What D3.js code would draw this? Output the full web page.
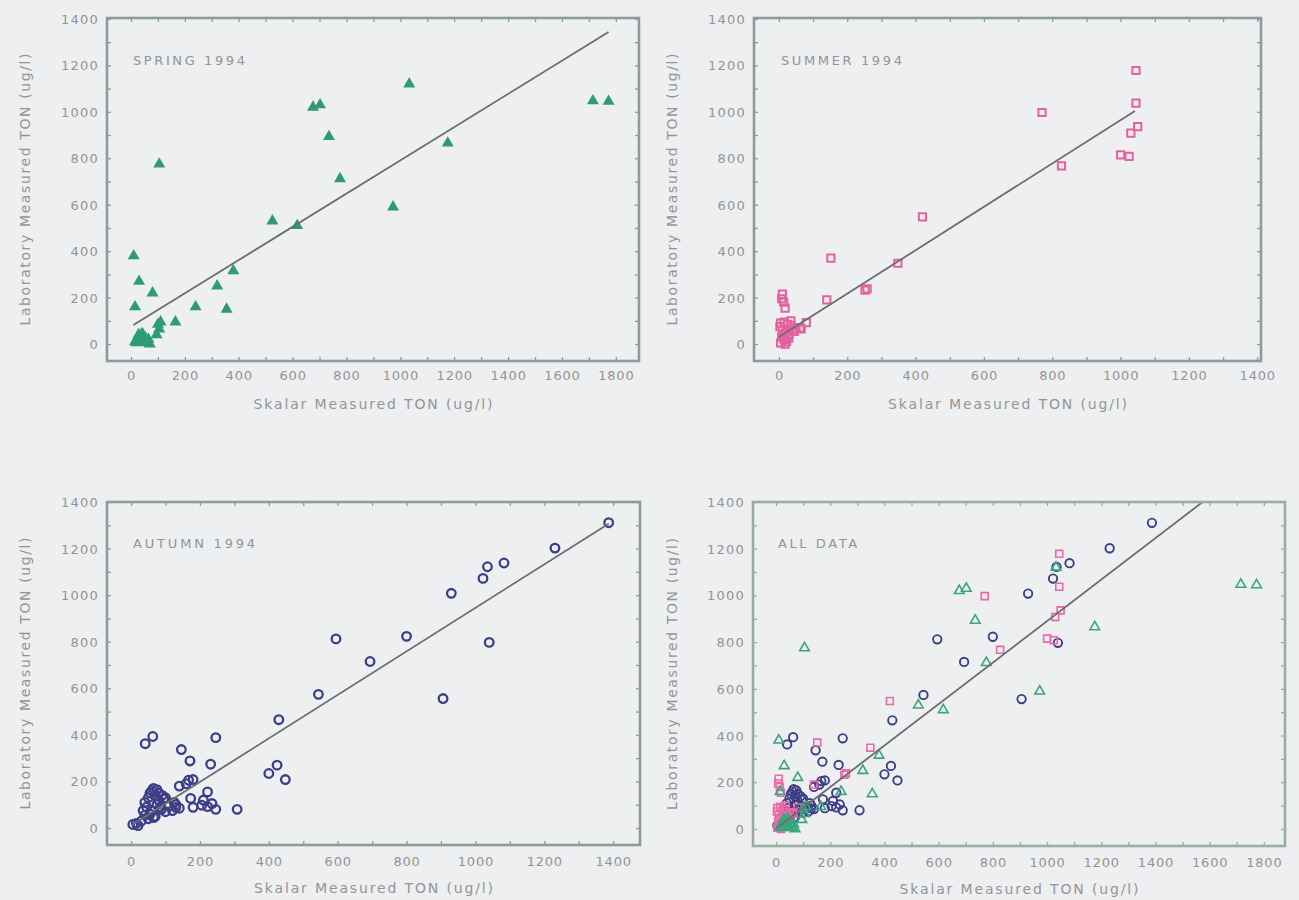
<!DOCTYPE html>
<html>
<head>
<meta charset="utf-8">
<script src="https://cdn.jsdelivr.net/npm/d3@7"></script>
<style>
  html, body { margin: 0; padding: 0; background: #eeeff0; }
  svg { display: block; }
</style>
</head>
<body>
<svg id="chart" width="1299" height="900"></svg>
<script>
// ---------------- DATA ----------------
const panelTitles = ["SPRING 1994", "SUMMER 1994", "AUTUMN 1994", "ALL DATA"];
const xAxisTitle = "Skalar Measured TON (ug/l)";
const yAxisTitle = "Laboratory Measured TON (ug/l)";

const xTicks1800 = [0, 200, 400, 600, 800, 1000, 1200, 1400, 1600, 1800];
const xTicks1400 = [0, 200, 400, 600, 800, 1000, 1200, 1400];
const yTicks = [0, 200, 400, 600, 800, 1000, 1200, 1400];

// [Skalar TON, Laboratory TON]
const spring = [
  [10, 380], [30, 270], [15, 160], [80, 220], [105, 775], [165, 95], [240, 160],
  [320, 250], [355, 150], [380, 315], [525, 530], [617, 510], [676, 1020],
  [702, 1030], [735, 893], [776, 712], [973, 590], [1033, 1120], [1176, 865],
  [1715, 1047], [1773, 1045],
  [100, 85], [105, 65], [110, 95], [95, 40],
  [20, 5], [25, 20], [30, 10], [35, 30], [40, 45], [45, 40], [50, 10], [55, 25],
  [60, 5], [15, 10], [28, 40], [42, 15], [65, 20], [70, 0]
];

const summer = [
  [1045, 1178], [1045, 1037], [1050, 936], [1030, 908], [770, 997], [1000, 815],
  [1025, 808], [827, 767], [420, 548], [348, 348], [152, 370], [140, 190],
  [252, 232], [258, 238], [80, 92], [62, 70],
  [10, 215], [8, 195], [18, 155], [14, 180],
  [5, 90], [15, 95], [25, 85], [35, 80], [50, 70], [65, 65], [10, 60], [20, 50],
  [30, 40], [8, 30], [15, 20], [22, 10], [5, 5], [40, 60], [45, 55], [12, 40],
  [28, 25], [18, 0], [3, 75], [35, 100]
];

const autumn = [
  [1387, 1311], [1231, 1202], [1083, 1138], [1035, 1122], [1022, 1072], [930, 1008],
  [800, 823], [595, 812], [1040, 797], [694, 715], [544, 574], [906, 556],
  [429, 465], [246, 388], [63, 393], [41, 362], [146, 337], [171, 288], [231, 274],
  [424, 270], [400, 234], [448, 208], [308, 80], [167, 205], [180, 208], [160, 190],
  [140, 180], [173, 127], [222, 155], [210, 120], [180, 89], [222, 92], [246, 80],
  [235, 105], [205, 98], [130, 88], [125, 110], [95, 125], [88, 80],
  [40, 110], [50, 130], [55, 150], [60, 160], [65, 170], [70, 140], [75, 165],
  [80, 150], [45, 90], [55, 60], [60, 75], [70, 50], [75, 100], [80, 120], [35, 75],
  [40, 55], [50, 40], [65, 45], [85, 90], [100, 70], [110, 95], [120, 75], [130, 100],
  [140, 85], [90, 140], [100, 130], [5, 15], [15, 20], [20, 10], [30, 30]
];

// fitted lines, in data units: [x0, y0, x1, y1]
const springFit = [9, 82, 1773, 1344];
const summerFit = [0, 30, 1042, 1004];
const autumnFit = [2, 13, 1387, 1307];
const allFit = [0, 2, 1780, 1583];

// ---------------- LAYOUT / STYLE ----------------
const svg = d3.select("#chart");
const font = "'DejaVu Sans', 'Liberation Sans', sans-serif";
const tickColor = "#929496";
const titleColor = "#939597";

const styles = {
  springBig:  { type: d3.symbolTriangle, size: 62, fill: "#2e9b74", stroke: "none", sw: 0 },
  summerBig:  { type: d3.symbolSquare, size: 52, fill: "none", stroke: "#e5619d", sw: 2 },
  autumnBig:  { type: "circle", r: 4.3, fill: "none", stroke: "#3d3f86", sw: 2.3 },
  springSmall:{ type: d3.symbolTriangle, size: 40, fill: "none", stroke: "#3aa57e", sw: 1.6 },
  summerSmall:{ type: d3.symbolSquare, size: 48, fill: "none", stroke: "#ea6aa5", sw: 1.6 },
  autumnSmall:{ type: "circle", r: 4.2, fill: "none", stroke: "#3d3f86", sw: 1.9 }
};

const panels = [
  { title: panelTitles[0], titleLen: 112, frame: [107, 18, 639, 361], xDom: [-89, 1886], yDom: [-73, 1404],
    xTicks: xTicks1800, xMax: 1800, series: [[spring, "springBig"]], fit: springFit, frameColor: "#8e9b9c",
    xLabGap: 19 },
  { title: panelTitles[1], titleLen: 121, frame: [754, 18, 1261, 361], xDom: [-73, 1411], yDom: [-73, 1404],
    xTicks: xTicks1400, xMax: 1400, series: [[summer, "summerBig"]], fit: summerFit, frameColor: "#8e9b9c",
    xLabGap: 19 },
  { title: panelTitles[2], titleLen: 122, frame: [107, 502, 640, 845], xDom: [-70, 1478], yDom: [-73, 1400],
    xTicks: xTicks1400, xMax: 1400, series: [[autumn, "autumnBig"]], fit: autumnFit, frameColor: "#8e9b9c",
    xLabGap: 21 },
  { title: panelTitles[3], titleLen: 79, frame: [753, 502, 1285, 846], xDom: [-85, 1878], yDom: [-73, 1400],
    xTicks: xTicks1800, xMax: 1800,
    series: [[autumn, "autumnSmall"], [summer, "summerSmall"], [spring, "springSmall"]],
    fit: allFit, frameColor: "#98ae9e", xLabGap: 21 }
];

panels.forEach((p, i) => {
  const [x0, y0, x1, y1] = p.frame;
  const x = d3.scaleLinear().domain(p.xDom).range([x0, x1]);
  const y = d3.scaleLinear().domain(p.yDom).range([y1, y0]);
  const g = svg.append("g");

  const clipId = "clip" + i;
  svg.append("clipPath").attr("id", clipId)
    .append("rect").attr("x", x0).attr("y", y0).attr("width", x1 - x0).attr("height", y1 - y0);

  // inward ticks via d3 axes (every 100 units), no labels
  const minorX = d3.range(0, p.xMax + 1, 100);
  const minorY = d3.range(0, 1401, 100);
  const tickStyle = sel => {
    sel.select(".domain").remove();
    sel.selectAll("line").attr("stroke", p.frameColor).attr("stroke-width", 1.3);
    sel.selectAll("text").remove();
  };
  g.append("g").attr("transform", `translate(0,${y1})`)
    .call(d3.axisBottom(x).tickValues(minorX).tickSize(-4)).call(tickStyle);
  g.append("g").attr("transform", `translate(0,${y0})`)
    .call(d3.axisTop(x).tickValues(minorX).tickSize(-4)).call(tickStyle);
  g.append("g").attr("transform", `translate(${x0},0)`)
    .call(d3.axisLeft(y).tickValues(minorY).tickSize(-4)).call(tickStyle);
  g.append("g").attr("transform", `translate(${x1},0)`)
    .call(d3.axisRight(y).tickValues(minorY).tickSize(-4)).call(tickStyle);

  // tick labels
  const xl = g.append("g").attr("transform", `translate(0,${y1 + p.xLabGap})`)
    .call(d3.axisBottom(x).tickValues(p.xTicks).tickSize(0).tickPadding(0).tickFormat(d3.format("d")));
  xl.select(".domain").remove();
  xl.selectAll("text").attr("fill", tickColor).attr("font-family", font).attr("font-size", 13)
    .attr("letter-spacing", "0.8px").attr("dy", 0);

  const yl = g.append("g").attr("transform", `translate(${x0 - 8},0)`)
    .call(d3.axisLeft(y).tickValues(yTicks).tickSize(0).tickPadding(0).tickFormat(d3.format("d")));
  yl.select(".domain").remove();
  yl.selectAll("text").attr("fill", tickColor).attr("font-family", font).attr("font-size", 13)
    .attr("letter-spacing", "1.2px").attr("dy", "0.35em");

  // points
  p.series.forEach(([data, key]) => {
    const st = styles[key];
    const pg = g.append("g");
    if (st.type === "circle") {
      pg.selectAll("circle").data(data).join("circle")
        .attr("cx", d => x(d[0])).attr("cy", d => y(d[1])).attr("r", st.r)
        .attr("fill", st.fill).attr("stroke", st.stroke).attr("stroke-width", st.sw);
    } else {
      const sym = d3.symbol().type(st.type).size(st.size);
      pg.selectAll("path").data(data).join("path")
        .attr("transform", d => `translate(${x(d[0])},${y(d[1])})`)
        .attr("d", sym)
        .attr("fill", st.fill).attr("stroke", st.stroke).attr("stroke-width", st.sw);
    }
  });

  // fitted line
  const f = p.fit;
  g.append("line").attr("clip-path", `url(#${clipId})`)
    .attr("x1", x(f[0])).attr("y1", y(f[1])).attr("x2", x(f[2])).attr("y2", y(f[3]))
    .attr("stroke", "#6b6e70").attr("stroke-width", 1.8);

  // frame
  g.append("rect").attr("x", x0).attr("y", y0).attr("width", x1 - x0).attr("height", y1 - y0)
    .attr("fill", "none").attr("stroke", p.frameColor).attr("stroke-width", 2.6);

  // panel title
  g.append("text").attr("x", x(0) + 2).attr("y", y(1225) + 5)
    .attr("fill", tickColor).attr("font-family", font).attr("font-size", 13)
    .attr("textLength", p.titleLen).attr("lengthAdjust", "spacing")
    .text(p.title);

  // axis titles
  g.append("text").attr("x", (x0 + x1) / 2).attr("y", y1 + 48)
    .attr("text-anchor", "middle").attr("fill", titleColor)
    .attr("font-family", font).attr("font-size", 14)
    .attr("textLength", 239).attr("lengthAdjust", "spacing")
    .text(xAxisTitle);

  const yc = (y0 + y1) / 2;
  const yx = i % 2 === 0 ? 25 : 672;
  g.append("text").attr("transform", `translate(${yx + 5},${yc}) rotate(-90)`)
    .attr("text-anchor", "middle").attr("fill", titleColor)
    .attr("font-family", font).attr("font-size", 14)
    .attr("textLength", 272).attr("lengthAdjust", "spacing")
    .text(yAxisTitle);
});
</script>
</body>
</html>
